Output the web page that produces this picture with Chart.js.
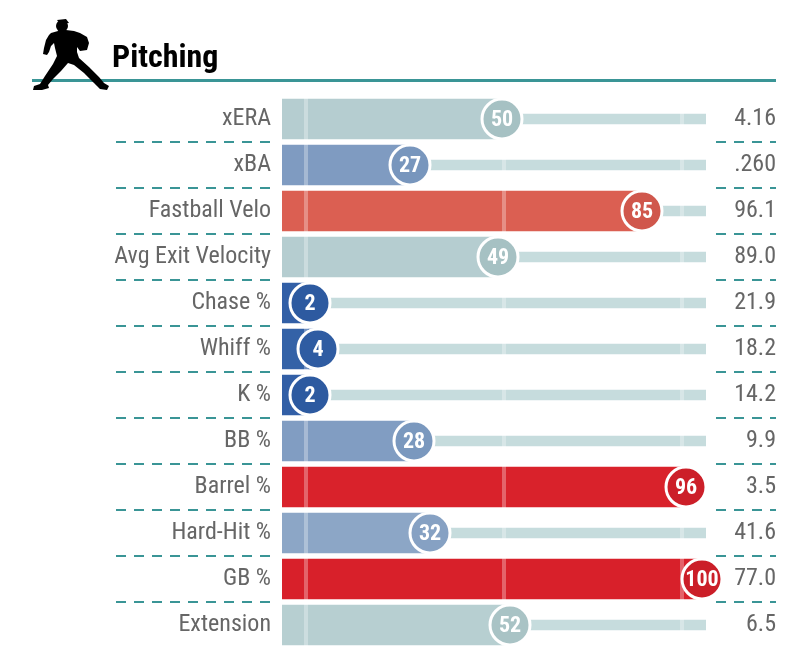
<!DOCTYPE html>
<html lang="en">
<head>
    <meta charset="UTF-8">
    <title>Pitching Percentile Rankings</title>
    <script src="https://cdn.jsdelivr.net/npm/chart.js"></script>
    <style>
        body { margin: 0; background: #fff; }
        #wrap { position: relative; width: 808px; height: 668px; }
        #pitchChart { position: absolute; left: 0; top: 0; }
        #head { position: absolute; left: 0; top: 0; }
        #rule { position: absolute; left: 32px; top: 79px; width: 744px; height: 3px; background: #3a9596; }
    </style>
</head>
<body>
<div id="wrap">
    <canvas id="pitchChart" width="808" height="668"></canvas>
    <div id="rule"></div>
    <svg id="head" width="240" height="100">
        <!-- pitcher silhouette -->
        <circle cx="62" cy="26" r="6" fill="#000"/>
        <path d="M57 20 L66 19 L69 23 L60 24 Z" fill="#000"/>
        <path fill="#000" d="M51 33 L58 31 L66 30 L74 31 L80 33 L87 37 L89 43 L87 50 L80 51 L77 47 L77 52 L79 58
            L89 67 L99 77 L104 83 L109 86 L107 90 L100 89 L94 83 L84 73 L74 65 L68 63 L61 71 L53 79 L48 85
            L49 88 L42 90 L33 90 L34 86 L40 84 L45 76 L53 64 L57 56 L55 48 L54 43 L51 46 L49 52 L47 55
            L43 54 L44 48 L46 40 L49 35 Z"/>
        <text x="112" y="67" font-family="'Roboto Condensed', 'Liberation Sans Narrow', Roboto, sans-serif"
              font-size="32" font-weight="bold" fill="#000">Pitching</text>
    </svg>
</div>

<script>
    const statLabels = ['xERA', 'xBA', 'Fastball Velo', 'Avg Exit Velocity', 'Chase %', 'Whiff %',
        'K %', 'BB %', 'Barrel %', 'Hard-Hit %', 'GB %', 'Extension'];
    const percentiles = [50, 27, 85, 49, 2, 4, 2, 28, 96, 32, 100, 52];
    const statValues = ['4.16', '.260', '96.1', '89.0', '21.9', '18.2', '14.2', '9.9', '3.5', '41.6', '77.0', '6.5'];
    const axisMin = -5;
    const axisMax = 101;
    const refLines = [1, 50.5, 95];

    // colours per row (bar / circle)
    const barColors = ['#b5cdd0', '#7f9bc1', '#db5f52', '#b5cdd0', '#325fa6', '#3462a7',
        '#325fa6', '#819dc2', '#d9222b', '#8ca6c6', '#d8202a', '#b7cfd1'];
    const dotColors = ['#a6c1c3', '#7896bd', '#d0574c', '#a6c1c3', '#2d5aa0', '#2f5ca2',
        '#2d5aa0', '#7a98be', '#cc1f29', '#86a1c3', '#cb1e28', '#a9c3c5'];

    const FONT = "'Roboto Condensed', 'Liberation Sans Narrow', Roboto, sans-serif";

    const rowDecor = {
        id: 'rowDecor',
        beforeDatasetsDraw(chart) {
            const { ctx, chartArea, scales } = chart;
            const y = scales.y;
            ctx.save();
            ctx.strokeStyle = '#3a9596';
            ctx.lineWidth = 2;
            ctx.setLineDash([10, 8]);
            for (let i = 0; i < statLabels.length - 1; i++) {
                const yy = Math.round((y.getPixelForValue(i) + y.getPixelForValue(i + 1)) / 2);
                ctx.beginPath();
                ctx.moveTo(116, yy);
                ctx.lineTo(chartArea.left - 10, yy);
                ctx.stroke();
                ctx.beginPath();
                ctx.moveTo(chartArea.right + 10, yy);
                ctx.lineTo(scales.y2.right, yy);
                ctx.stroke();
            }
            ctx.restore();
        },
        afterDatasetDraw(chart, args) {
            if (args.index !== 1) return;
            const { ctx, chartArea, scales } = chart;
            ctx.save();
            ctx.strokeStyle = 'rgba(255,255,255,0.3)';
            ctx.lineWidth = 4;
            refLines.forEach(v => {
                const x = scales.x.getPixelForValue(v);
                ctx.beginPath();
                ctx.moveTo(x, chartArea.top);
                ctx.lineTo(x, chartArea.bottom);
                ctx.stroke();
            });
            ctx.restore();
        },
        afterDatasetsDraw(chart) {
            const { ctx } = chart;
            const meta = chart.getDatasetMeta(2);
            ctx.save();
            ctx.fillStyle = '#fff';
            ctx.font = 'bold 22px ' + FONT;
            ctx.textAlign = 'center';
            ctx.textBaseline = 'middle';
            meta.data.forEach((pt, i) => {
                ctx.fillText(String(percentiles[i]), pt.x, pt.y + 1);
            });
            ctx.restore();
        }
    };

    const ctx = document.getElementById('pitchChart').getContext('2d');

    const chart = new Chart(ctx, {
        type: 'bar',
        data: {
            labels: statLabels,
            datasets: [
                {
                    label: 'track',
                    data: percentiles.map(p => [p, axisMax]),
                    backgroundColor: '#c6dcdd',
                    barThickness: 10,
                    grouped: false,
                    order: 3
                },
                {
                    label: 'percentile',
                    data: percentiles.map(p => [axisMin, p]),
                    backgroundColor: barColors,
                    barThickness: 40,
                    grouped: false,
                    order: 2
                },
                {
                    type: 'scatter',
                    label: 'rank',
                    data: percentiles.map((p, i) => ({ x: p, y: statLabels[i] })),
                    pointRadius: 20,
                    pointHoverRadius: 20,
                    pointBorderWidth: 3,
                    pointHoverBorderWidth: 3,
                    pointBorderColor: '#fff',
                    pointBackgroundColor: dotColors,
                    clip: false,
                    order: 1
                }
            ]
        },
        options: {
            indexAxis: 'y',
            responsive: false,
            animation: false,
            layout: { autoPadding: false, padding: { top: 96, bottom: 20, left: 0, right: 32 } },
            plugins: {
                legend: { display: false },
                tooltip: { enabled: false }
            },
            scales: {
                x: {
                    type: 'linear',
                    min: axisMin,
                    max: axisMax,
                    display: false
                },
                y: {
                    type: 'category',
                    offset: true,
                    grid: { display: false, drawTicks: false },
                    border: { display: false },
                    ticks: {
                        color: '#666',
                        padding: 11,
                        font: { family: FONT, size: 24 }
                    },
                    afterFit(scale) {
                        scale.width = 282;
                        scale.paddingTop = 0;
                        scale.paddingBottom = 0;
                    }
                },
                y2: {
                    type: 'category',
                    position: 'right',
                    labels: statValues,
                    offset: true,
                    grid: { display: false, drawTicks: false },
                    border: { display: false },
                    ticks: {
                        color: '#666',
                        crossAlign: 'far',
                        font: { family: FONT, size: 24 }
                    },
                    afterFit(scale) {
                        scale.width = 70;
                        scale.paddingTop = 0;
                        scale.paddingBottom = 0;
                    }
                }
            }
        },
        plugins: [rowDecor]
    });
</script>
</body>
</html>
